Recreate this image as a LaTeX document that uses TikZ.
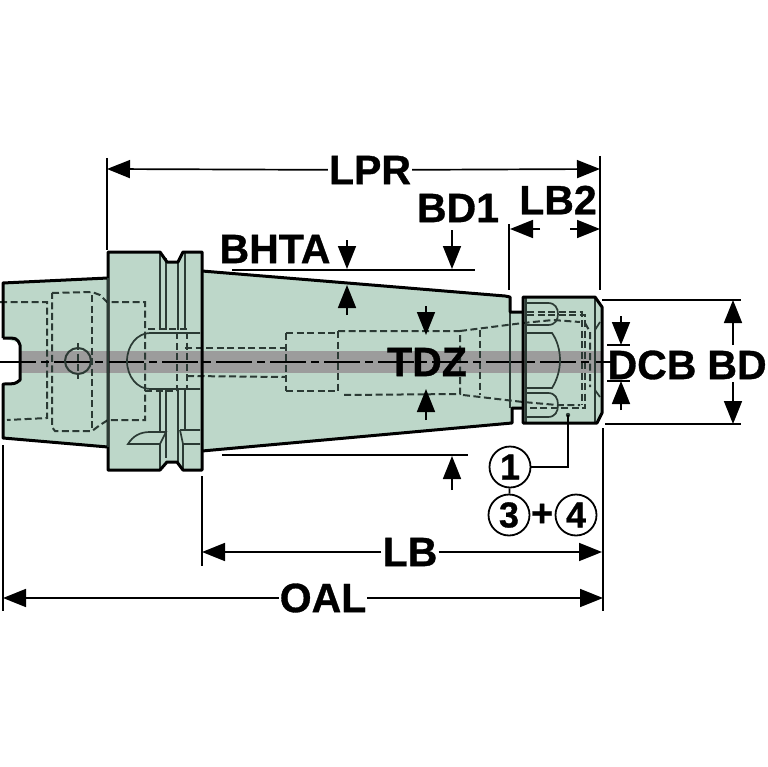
\documentclass[tikz,border=0pt]{standalone}
\usepackage{fontspec}
\setmainfont[BoldFeatures={FakeBold=0.8}]{Liberation Sans}
\usetikzlibrary{arrows.meta}
\definecolor{bodyfill}{HTML}{BDD7C9}
\definecolor{bandgray}{HTML}{9C9C9C}
\definecolor{dashcol}{HTML}{2B3A34}
\tikzset{
  outline/.style={draw=black,line width=3pt,line join=round},
  thinline/.style={draw=dashcol,line width=1.7pt},
  hidden/.style={draw=dashcol,line width=2pt,dash pattern=on 7pt off 3.5pt},
  centerl/.style={draw=black,line width=1.2pt,dash pattern=on 36pt off 5pt on 8pt off 5pt},
  dimline/.style={draw=black,line width=1.7pt},
  dimarrow/.style={dimline,-{Triangle[length=23pt,width=18pt]}},
  label/.style={font=\bfseries\fontsize{41}{41}\selectfont,inner sep=1pt,text=black},
  clabel/.style={draw=black,line width=1.8pt,fill=white,circle,minimum size=41pt,inner sep=0pt,font=\bfseries\fontsize{36}{36}\selectfont},
}
\begin{document}
\begin{tikzpicture}[x=1pt,y=-1pt]
\useasboundingbox (0,0) rectangle (767,767);
% body fill
\path[fill=bodyfill] (3,283) -- (108,278) -- (108,252) -- (160,252) -- (167,262) -- (178,262) -- (183,252) -- (202,252) -- (202,271) -- (510,297) -- (510,312) -- (523,312) -- (523,297) -- (595,297) -- (602,307) -- (602,413) -- (597,423) -- (523,423) -- (523,408) -- (512,408) -- (512,423) -- (202,451) -- (202,470) -- (183,470) -- (177,462) -- (167,462) -- (160,470) -- (108,470) -- (108,447) -- (3,438) -- (3,384) -- (20,382) -- (20,343) -- (3,338) -- cycle;
% gray band
\fill[bandgray] (20,351) rectangle (602,373);
% hidden lines
\draw[hidden] (0,302) -- (47,302) -- (47,418) -- (7,420);
\draw[hidden] (52,293) -- (92,292) -- (100,295) -- (107,302) -- (145,302) -- (145,420) -- (108,420) -- (100,425) -- (92,431) -- (55,431) -- (52,427) -- cycle;
\draw[hidden] (92,295) -- (92,430);
\draw[hidden] (78,343) -- (78,379);
\draw[hidden] (148,329) -- (187,329) -- (187,390);
\draw[hidden] (145,391) -- (177,391) -- (177,333);
\draw[hidden] (185,348) -- (286,348);
\draw[hidden] (187,376) -- (286,377);
\draw[hidden] (286,333) -- (338,333) (286,391) -- (338,391) (286,333) -- (286,391);
\draw[hidden] (338,331) -- (460,331) -- (460,394) -- (342,395);
\draw[hidden] (338,331) -- (338,393);
\draw[hidden] (460,331) -- (523,323) -- (553,320) -- (580,322);
\draw[hidden] (480,330) -- (480,395);
\draw[hidden] (463,395) -- (523,402) -- (557,405) -- (580,405);
\draw[hidden] (527,312) -- (582,312) -- (582,405);
\draw[hidden] (527,315) -- (585,315) -- (585,408) -- (527,408);
\draw[hidden] (585,323) -- (590,332) -- (590,387);
% center line
\draw[centerl] (0,362) -- (610,362);
% fine internal solids
\draw[thinline,line width=2pt] (78,361) circle[radius=13pt];
\draw[thinline] (510,312) -- (510,408);
\draw[thinline] (160,253) -- (160,330) (166,258) -- (166,330) (178,262) -- (178,330) (185,253) -- (185,330);
\draw[thinline] (160,390) -- (160,432) (166,390) -- (166,458) (178,390) -- (178,462) (185,390) -- (185,430);
\draw[thinline] (200,333) -- (150,333) arc[start angle=90,end angle=270,x radius=23pt,y radius=28pt] -- (200,389);
\draw[thinline] (128,444) .. controls (133,436) and (140,432) .. (150,432) -- (166,432) -- (160,444) -- cycle;
\draw[thinline] (160,444) -- (160,470) (166,432) -- (166,458);
\draw[thinline] (180,430) -- (200,430) (180,430) -- (183,444) -- (200,444) (183,444) -- (183,470);
\draw[thinline] (526,298) -- (526,422);
\draw[thinline] (527,303) -- (548,303) .. controls (555,303) and (558,308) .. (558,314) .. controls (558,320) and (555,325) .. (548,325) -- (527,325);
\draw[thinline] (527,393) -- (548,393) .. controls (555,393) and (558,398) .. (558,405) .. controls (558,412) and (555,417) .. (548,417) -- (527,417);
\draw[thinline] (527,333) -- (552,333) .. controls (557,340) and (560,350) .. (560,360) .. controls (560,370) and (557,380) .. (552,388) -- (527,388);
\draw[thinline] (595,297) -- (595,422);
\draw[thinline] (595,330) -- (600,322) (595,390) -- (600,397);
% outlines
\draw[outline] (3,338) -- (3,283) -- (108,278);
\draw[outline] (108,447) -- (3,438) -- (3,384) .. controls (15,384) .. (20,380) -- (20,345) .. controls (17,338) .. (3,338);
\draw[outline] (108,278) -- (108,252) -- (160,252) -- (167,262) -- (178,262) -- (183,252) -- (202,252) -- (202,470) -- (183,470) -- (177,462) -- (167,462) -- (160,470) -- (108,470) -- cycle;
\draw[thinline,line width=2pt] (108,278) -- (108,447);
\draw[outline] (202,271) -- (505,296) -- (510,297) -- (510,312) -- (523,312);
\draw[outline] (202,451) -- (512,423) -- (512,408) -- (523,408);
\draw[outline] (523,297) -- (595,297) -- (602,307) -- (602,413) -- (597,423) -- (523,423) -- cycle;
% dimension coordinates
\coordinate (lprL) at (107,169); \coordinate (lprR) at (600,169);
\coordinate (lb2L) at (510,229); \coordinate (lb2R) at (600,229);
\coordinate (lbL) at (202,552); \coordinate (lbR) at (602,552);
\coordinate (oalL) at (3,598); \coordinate (oalR) at (603,598);
% extension lines
\draw[dimline] (107,158) -- (107,250);
\draw[dimline] (600,156) -- (600,290);
\draw[dimline] (509,224) -- (509,290);
\draw[dimline] (202,476) -- (202,566);
\draw[dimline] (3,445) -- (3,611);
\draw[dimline] (603,428) -- (603,611);
\draw[dimline] (232,270) -- (475,270);
\draw[dimline] (222,455) -- (468,455);
\draw[dimline] (602,300) -- (741,300);
\draw[dimline] (605,424) -- (741,424);
% labels
\node[label] (lpr) at (370,170) {LPR};
\node[label] (lbtwo) at (558,200) {LB2};
\node[label] (bdone) at (458,208) {BD1};
\node[label] (bhta) at (275,249) {BHTA};
\node[label] (tdz) at (427,362) {TDZ};
\node[label] (dcb) at (652,365) {DCB};
\node[label] (bd) at (737,365) {BD};
\node[label] (lb) at (410,552) {LB};
\node[label] (oal) at (323,598) {OAL};
% dimension arrows
\draw[dimarrow] (lpr) -- (lprL);
\draw[dimarrow] (lpr) -- (lprR);
\draw[dimarrow] (540,229) -- (lb2L);
\draw[dimarrow] (570,229) -- (lb2R);
\draw[dimarrow] (lb) -- (lbL);
\draw[dimarrow] (lb) -- (lbR);
\draw[dimarrow] (oal) -- (oalL);
\draw[dimarrow] (oal) -- (oalR);
\coordinate (bdT) at (733,300); \coordinate (bdB) at (733,424);
\draw[dimarrow] (733,345) -- (bdT);
\draw[dimarrow] (733,382) -- (bdB);
\draw[dimarrow] (452,230) -- (452,269);
\draw[dimarrow] (347,240) -- (347,269);
\draw[dimarrow] (347,315) -- (347,285);
\draw[dimarrow] (452,490) -- (452,456);
\draw[dimarrow] (426,306) -- (426,335);
\draw[dimarrow] (426,420) -- (426,389);
\draw[dimarrow] (621,316) -- (621,345);
\draw[dimarrow] (621,410) -- (621,381);
\draw[dimline] (607,345) -- (630,345) (607,381) -- (630,381);
\draw[dimline] (606,362) -- (612,362);
% callouts
\coordinate (dot) at (568,415);
\fill[dashcol] (dot) circle[radius=2.2pt];
\node[clabel] (one) at (510,467) {1};
\node[clabel] (three) at (509,515) {3};
\node[clabel] (four) at (576,515) {4};
\node[font=\bfseries\fontsize{38}{38}\selectfont,inner sep=0pt] (plus) at (542,515) {+};
\draw[dimline] (one) -| (dot);
\draw[dimline] (one) -- (three);
\end{tikzpicture}
\end{document}
